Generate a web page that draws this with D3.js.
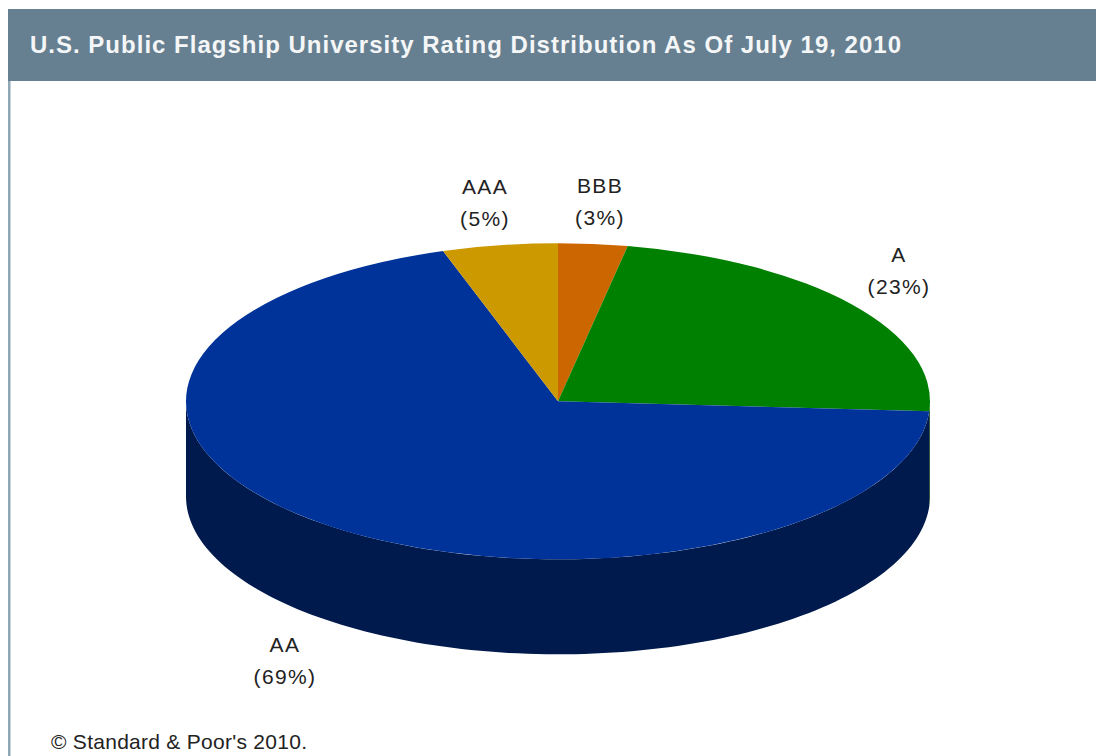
<!DOCTYPE html>
<html><head><meta charset="utf-8">
<script src="https://cdn.jsdelivr.net/npm/d3@7/dist/d3.min.js"></script>
<style>html,body{margin:0;padding:0;background:#fff}svg{display:block}
text{font-family:"Liberation Sans",Arial,sans-serif}</style></head>
<body><svg id="c" width="1096" height="756"></svg>
<script>
const titleText = "U.S. Public Flagship University Rating Distribution As Of July 19, 2010";
const footnote = "© Standard & Poor's 2010.";
const categories = ["BBB","A","AA","AAA"];
const shares = [3,23,69,5];
const topColors = ["#cc6600","#008000","#003399","#cc9900"];
const sideColors = ["#663300","#004000","#001a4d","#664c00"];
const labelPositions = [[600,193],[899,262],[285,652],[485,194]];

const svg = d3.select("#c");
const W=1096,H=756,cx=558,cy=401.3,rx=372,ry=158,depth=95;

// frame
svg.append("rect").attr("x",8).attr("y",9).attr("width",W-8).attr("height",72).attr("fill","#668091");
svg.append("rect").attr("x",8).attr("y",81).attr("width",2.5).attr("height",H-81).attr("fill","#8fa6b5");
svg.append("text").attr("x",30).attr("y",53).attr("fill","#f4f6f7")
  .attr("font-size",24).attr("font-weight","bold").attr("textLength",871).attr("lengthAdjust","spacing").text(titleText);

const pie = d3.pie().sort(null).value(d=>d)(shares);
const arc = d3.arc().innerRadius(0).outerRadius(rx);
const yS = ry/rx;

// sides (front half of the rim only)
const sideG = svg.append("g").attr("transform",`translate(${cx},${cy})`);
const side = d3.area().x(t=>rx*Math.sin(t)).y0(t=>-ry*Math.cos(t)).y1(t=>-ry*Math.cos(t)+depth);
pie.forEach((p,i)=>{
  const a=Math.max(p.startAngle,Math.PI/2), b=Math.min(p.endAngle,Math.PI*1.5);
  if(b<=a) return;
  const ts=d3.range(0,121).map(k=>a+(b-a)*k/120);
  sideG.append("path").attr("d",side(ts)).attr("fill",sideColors[i]);
});

// top
svg.append("g").attr("transform",`translate(${cx},${cy}) scale(1,${yS})`)
  .selectAll("path").data(pie).join("path")
  .attr("d",arc).attr("fill",(d,i)=>topColors[i]);

// labels
categories.forEach((c,i)=>{
  const [x,y]=labelPositions[i];
  const g=svg.append("g").attr("fill","#222").attr("font-size",21).attr("letter-spacing",1.4).attr("text-anchor","middle");
  g.append("text").attr("x",x).attr("y",y).text(c);
  g.append("text").attr("x",x).attr("y",y+32).text(`(${shares[i]}%)`);
});
svg.append("text").attr("x",51).attr("y",749).attr("fill","#222").attr("font-size",21)
  .attr("textLength",256).attr("lengthAdjust","spacing").text(footnote);
</script></body></html>
